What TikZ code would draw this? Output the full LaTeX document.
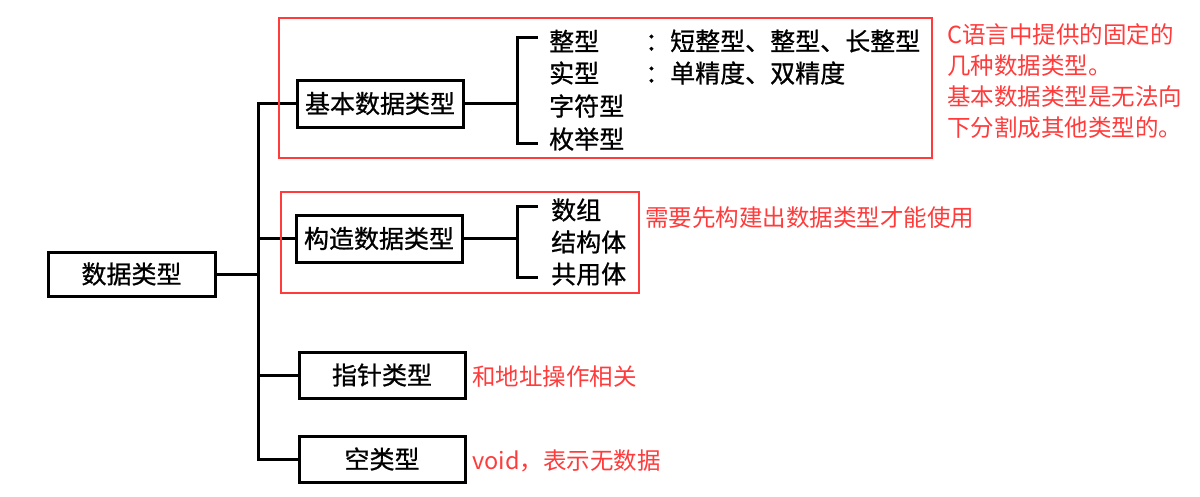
\documentclass[tikz,border=0pt]{standalone}
\usepackage{fontspec}
\setmainfont{Noto Sans CJK SC}
\newfontfamily\blkfont[FakeBold=0.8]{Noto Sans CJK SC}
\definecolor{ann}{HTML}{FF3B3B}
\begin{document}
\begin{tikzpicture}[x=1pt,y=-1pt,
  tbox/.style={draw=black,line width=3pt,inner sep=0pt,font=\blkfont\fontsize{25}{27}\selectfont,text=black},
  item/.style={anchor=west,inner sep=0pt,font=\blkfont\fontsize{25}{27}\selectfont,text=black},
  note/.style={anchor=west,inner sep=0pt,font=\fontsize{23.5}{31}\selectfont,text=ann,align=left},
  conn/.style={line width=3pt,black},
  redbox/.style={draw=ann,line width=2pt}]
\useasboundingbox (0,0) rectangle (1200,496);

% main boxes
\node[tbox,minimum width=167pt,minimum height=44pt] (root) at (131.5,274) {数据类型};
\node[tbox,minimum width=166pt,minimum height=47pt] (b1) at (380,103.5) {基本数据类型};
\node[tbox,minimum width=166pt,minimum height=47pt] (b2) at (379,238.5) {构造数据类型};
\node[tbox,minimum width=166pt,minimum height=46pt] (b3) at (382,375) {指针类型};
\node[tbox,minimum width=166pt,minimum height=46pt] (b4) at (382,459) {空类型};

% trunk
\coordinate (trunk) at (258,0);
\draw[conn] (root.east) -- (root.east -| trunk);
\draw[conn] (b1.west) -| (b4.west -| trunk) -- (b4.west);
\draw[conn] (b2.west) -- (b2.west -| trunk);
\draw[conn] (b3.west) -- (b3.west -| trunk);

% group 1 items
\node[item] (i1) at (549,41) {整型};
\node[item] (i2) at (549,73) {实型};
\node[item] (i3) at (549,106) {字符型};
\node[item] (i4) at (549,139) {枚举型};
\node[item] (d1) at (645,41) {：短整型、整型、长整型};
\node[item] (d2) at (645,73) {：单精度、双精度};
\coordinate (j1) at (517,0);
\coordinate (k1) at (538,0);
\draw[conn] (b1.east) -- (b1.east -| j1);
\draw[conn] (k1 |- 0,37) -- (j1 |- 0,37) -- (j1 |- 0,143) -- (k1 |- 0,143);

% group 2 items
\node[item] (s1) at (551,210) {数组};
\node[item] (s2) at (551,242) {结构体};
\node[item] (s3) at (551,274) {共用体};
\coordinate (j2) at (517,0);
\coordinate (k2) at (538,0);
\draw[conn] (b2.east) -- (b2.east -| j2);
\draw[conn] (k2 |- 0,206) -- (j2 |- 0,206) -- (j2 |- 0,277) -- (k2 |- 0,277);

% red frames
\draw[redbox] (279,18) rectangle (932,158);
\draw[redbox] (281,192) rectangle (639,293);

% notes
\node[note,anchor=north west] (n1) at (947,23) {C语言中提供的固定的\\几种数据类型。\\基本数据类型是无法向\\下分割成其他类型的。};
\node[note] (n2) at (645,218) {需要先构建出数据类型才能使用};
\node[note] (n3) at (472,377) {和地址操作相关};
\node[note] (n4) at (472,461) {void，表示无数据};
\end{tikzpicture}
\end{document}
